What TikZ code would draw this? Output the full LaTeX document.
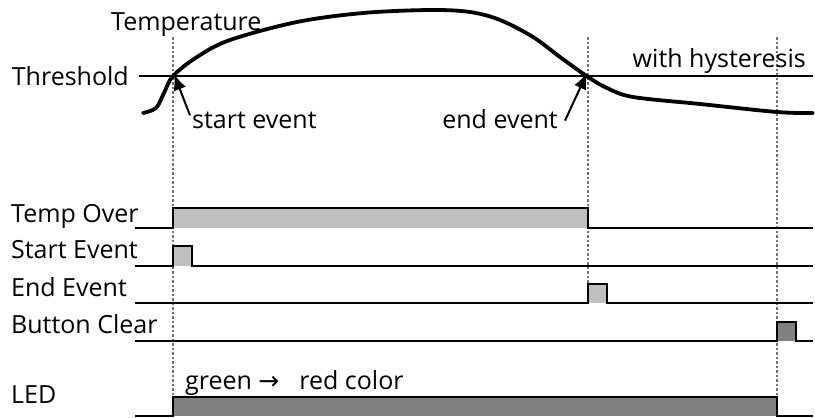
\documentclass[tikz,border=0pt]{standalone}
\usepackage{fontspec}
\setmainfont{Open Sans}
\newfontfamily\arrowfont{DejaVu Sans}
\usetikzlibrary{positioning,arrows.meta}

\begin{document}
\begin{tikzpicture}[x=1pt, y=-1pt,
    lbl/.style = {font=\fontsize{25}{29}\selectfont, inner sep=0pt},
    sig/.style = {line width=2pt, line join=miter},
    guide/.style = {black!55, line width=1.2pt, dash pattern=on 2.5pt off 2pt},
    pointer/.style = {line width=2pt, -{Latex[length=16pt,width=13pt]}},
    lowfill/.style = {fill=black!25},
    darkfill/.style = {fill=black!50}]
    \useasboundingbox (0,0) rectangle (815,418);

    % event instants
    \coordinate (tOn)  at (173,37);
    \coordinate (tOff) at (588,37);
    \coordinate (tClr) at (777,37);

    \draw[guide] (tOn) -- (173,397);
    \draw[guide] (tOff) -- (588,284);
    \draw[guide] (tClr) -- (777,397);

    % analog part
    \node[lbl, anchor=base west] (temp) at (111,30) {Temperature};
    \node[lbl, anchor=east] (thr) at (129,76) {Threshold};
    \coordinate (thrEnd) at (813,76);
    \draw[line width=2pt] ([xshift=10pt]thr.east) -- (thrEnd);

    \draw[line width=3.8pt, line cap=round] plot[smooth, tension=0.55] coordinates {
      (143,113) (156,108) (164,93) (173,76) (197,57) (230,40) (297,22)
      (363,13) (430,10) (470,12) (500,20) (533,37) (560,57) (588,77)
      (607,88) (633,97) (700,104) (777,112) (813,113)};

    \coordinate (cross1) at (173,76);
    \coordinate (cross2) at (588,76);
    \node[lbl, anchor=base west] (startlbl) at (192,128) {start event};
    \node[lbl, anchor=base east] (endlbl) at (558,128) {end event};
    \node[lbl, anchor=base east] (hyst) at (806,67) {with hysteresis};

    \draw[pointer] ([xshift=-2pt,yshift=-4pt]startlbl.north west) -- ([xshift=1pt,yshift=2pt]cross1);
    \draw[pointer] ([xshift=7pt,yshift=-2pt]endlbl.east) -- ([xshift=-1pt,yshift=3pt]cross2);

    % digital part
    \node[lbl, anchor=base west] (over)  at (11,222) {Temp Over};
    \node[lbl, anchor=base west] (sev)   at (11,258) {Start Event};
    \node[lbl, anchor=base west] (eev)   at (11,296) {End Event};
    \node[lbl, anchor=base west] (clr)   at (11,333) {Button Clear};
    \node[lbl, anchor=base west] (led)   at (11,403) {LED};

    \fill[lowfill] (173,228) rectangle (588,208);
    \draw[sig] (135,228) -- (173,228) -- (173,208) -- (588,208) -- (588,228) -- (813,228);

    \fill[lowfill] (173,266) rectangle (192,246);
    \draw[sig] (135,266) -- (173,266) -- (173,246) -- (192,246) -- (192,266) -- (813,266);

    \fill[lowfill] (588,303) rectangle (607,284);
    \draw[sig] (135,303) -- (588,303) -- (588,284) -- (607,284) -- (607,303) -- (813,303);

    \fill[darkfill] (777,341) rectangle (796,322);
    \draw[sig] (135,341) -- (777,341) -- (777,322) -- (796,322) -- (796,341) -- (813,341);

    \fill[darkfill] (173,416) rectangle (777,397);
    \draw[sig] (135,416) -- (173,416) -- (173,397) -- (777,397) -- (777,416) -- (813,416);

    \node[lbl, anchor=base west] (ledcol) at (185,389) {green~{\arrowfont →}\hspace{20pt}red color};
\end{tikzpicture}
\end{document}
